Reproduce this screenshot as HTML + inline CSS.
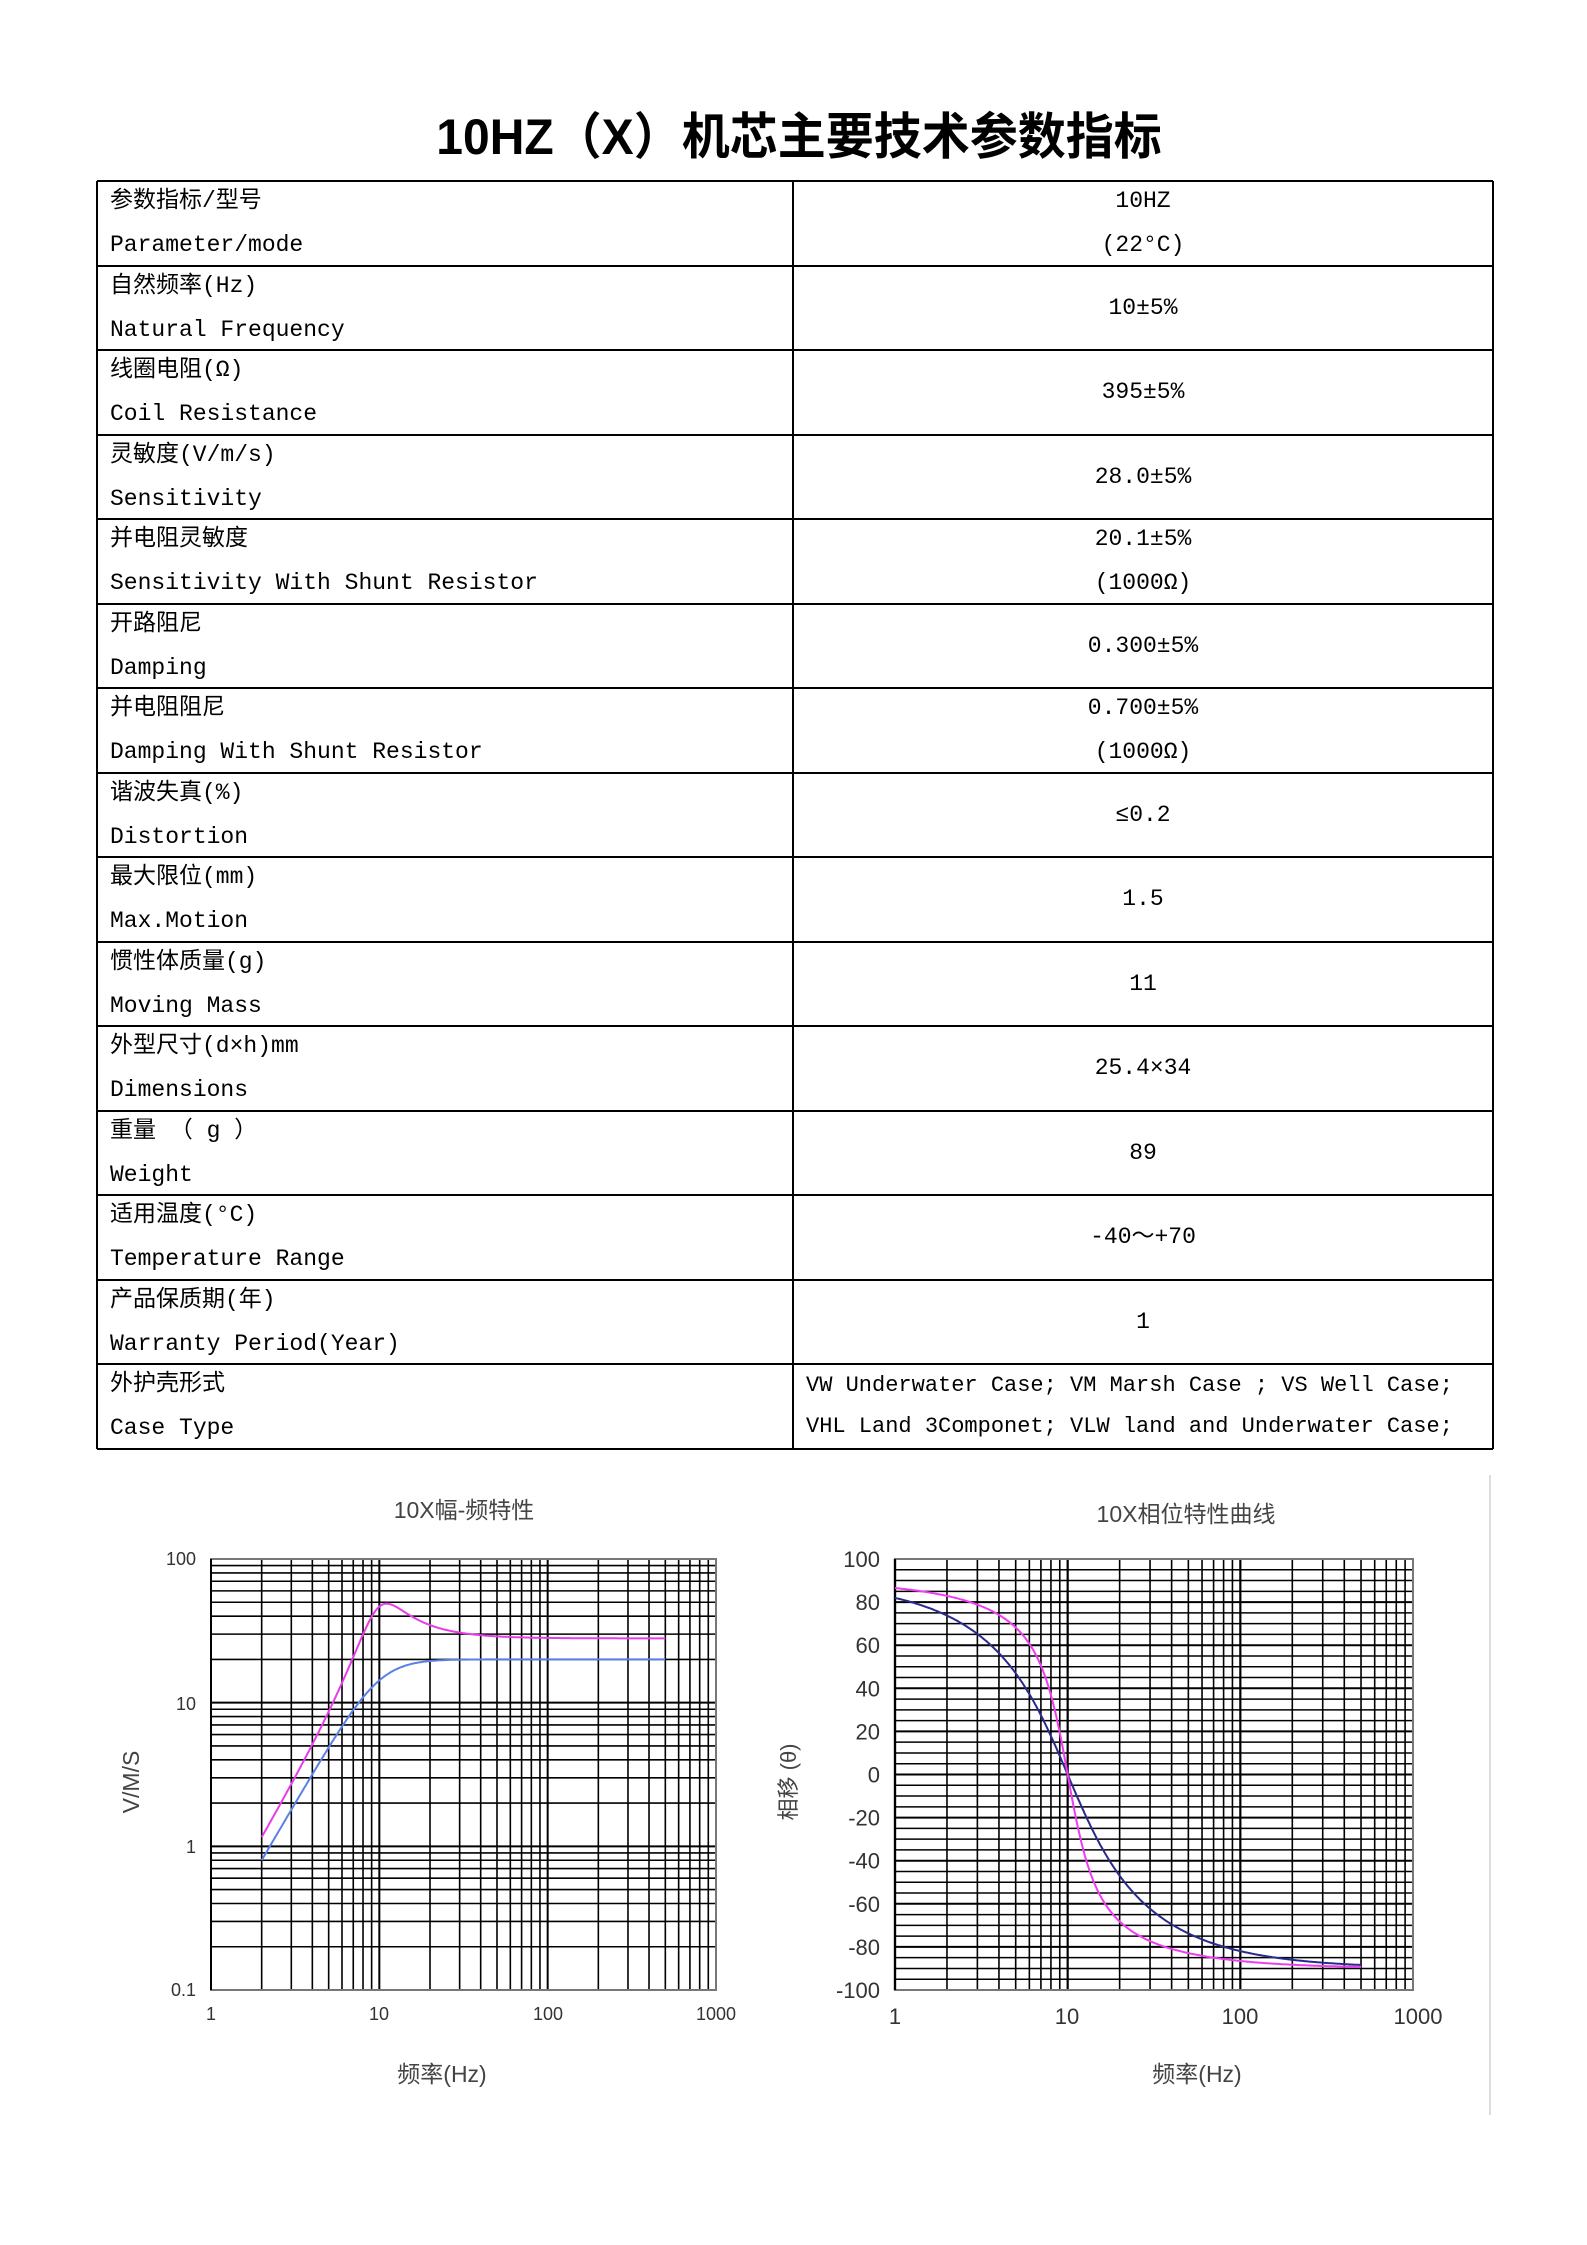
<!DOCTYPE html>
<html><head><meta charset="utf-8">
<style>
body{margin:0;background:#fff;}
#pg{position:relative;width:1587px;height:2245px;overflow:hidden;background:#fff;}
.t{position:absolute;font-family:"Liberation Mono","Noto Sans CJK SC",monospace;font-size:23px;color:#000;white-space:pre;line-height:1;}
.c{transform:translateX(-50%);}
.hl{position:absolute;left:97px;width:1396px;height:2px;background:#000;}
.vl{position:absolute;top:181px;height:1268px;width:2px;background:#000;}
</style></head><body><div id="pg">
<div class="t c" style="left:799px;top:112px;font-size:50px;font-weight:bold;font-family:'Liberation Sans','Noto Sans CJK SC',sans-serif;transform:translateX(-50%) scaleX(0.96);">10HZ（X）机芯主要技术参数指标</div>
<div id="tbl"></div>
<svg id="sv" width="1587" height="2245" style="position:absolute;left:0;top:0" font-family="Liberation Sans, Noto Sans CJK SC, sans-serif"></svg>
</div>
<script>
(function(){
const rows=[
["参数指标/型号","Parameter/mode",["10HZ","(22°C)"]],
["自然频率(Hz)","Natural Frequency",["10±5%"]],
["线圈电阻(Ω)","Coil Resistance",["395±5%"]],
["灵敏度(V/m/s)","Sensitivity",["28.0±5%"]],
["并电阻灵敏度","Sensitivity With Shunt Resistor",["20.1±5%","(1000Ω)"]],
["开路阻尼","Damping",["0.300±5%"]],
["并电阻阻尼","Damping With Shunt Resistor",["0.700±5%","(1000Ω)"]],
["谐波失真(%)","Distortion",["≤0.2"]],
["最大限位(mm)","Max.Motion",["1.5"]],
["惯性体质量(g)","Moving Mass",["11"]],
["外型尺寸(d×h)mm","Dimensions",["25.4×34"]],
["重量 （ g ）","Weight",["89"]],
["适用温度(°C)","Temperature Range",["-40～+70"]],
["产品保质期(年)","Warranty Period(Year)",["1"]],
["外护壳形式","Case Type",null]];
var h='';var T0=181,rh=84.5,CX=1143;
for(var i=0;i<=15;i++)h+='<div class="hl" style="top:'+(T0+i*rh-1)+'px"></div>';
h+='<div class="vl" style="left:96px"></div><div class="vl" style="left:792px"></div><div class="vl" style="left:1492px"></div>';
rows.forEach(function(r,i){var y=T0+i*rh;
h+='<div class="t" style="left:110px;top:'+(y+9)+'px">'+r[0]+'</div><div class="t" style="left:110px;top:'+(y+53)+'px">'+r[1]+'</div>';
if(r[2]){if(r[2].length==2){h+='<div class="t c" style="left:'+CX+'px;top:'+(y+9)+'px">'+r[2][0]+'</div><div class="t c" style="left:'+CX+'px;top:'+(y+53)+'px">'+r[2][1]+'</div>'}
else h+='<div class="t c" style="left:'+CX+'px;top:'+(y+31)+'px">'+r[2][0]+'</div>'}
else{h+='<div class="t" style="left:806px;top:'+(y+11)+'px;font-size:22px">VW Underwater Case; VM Marsh Case ; VS Well Case;</div><div class="t" style="left:806px;top:'+(y+52)+'px;font-size:22px">VHL Land 3Componet; VLW land and Underwater Case;</div>'}
});
document.getElementById('tbl').innerHTML=h;
var s='';
var L={x0:211,x1:716,y0:1559,y1:1990};
function lx(f){return L.x0+Math.log10(f)*(L.x1-L.x0)/3;}
function ly(v){return L.y1-(Math.log10(v)+1)*(L.y1-L.y0)/3;}
for(var d=0;d<3;d++)for(var k=1;k<10;k++){var x=lx(Math.pow(10,d)*k);s+='<line x1="'+x+'" y1="'+L.y0+'" x2="'+x+'" y2="'+L.y1+'" stroke="#000" stroke-width="'+(k==1?2:1.6)+'"/>';}
for(var d=-1;d<2;d++)for(var k=1;k<10;k++){var y=ly(Math.pow(10,d)*k);s+='<line x1="'+L.x0+'" y1="'+y+'" x2="'+L.x1+'" y2="'+y+'" stroke="#000" stroke-width="'+(k==1?2:1.6)+'"/>';}
s+='<rect x="'+L.x0+'" y="'+L.y0+'" width="'+(L.x1-L.x0)+'" height="'+(L.y1-L.y0)+'" fill="none" stroke="#777" stroke-width="2"/>';
s+='<line x1="'+L.x0+'" y1="'+L.y0+'" x2="'+L.x0+'" y2="'+L.y1+'" stroke="#000" stroke-width="2"/>';
function amp(f,S,hh){var r=f/10,r2=r*r;return S*r2/Math.sqrt((1-r2)*(1-r2)+(2*hh*r)*(2*hh*r));}
function ph(f,hh){var r=f/10;return 90-Math.atan2(2*hh*r,1-r*r)*180/Math.PI;}
var pm='',pb='';for(var i=0;i<=300;i++){var f=2*Math.pow(250,i/300);pm+=(i?'L':'M')+lx(f).toFixed(1)+','+ly(amp(f,28,0.3)).toFixed(1);pb+=(i?'L':'M')+lx(f).toFixed(1)+','+ly(amp(f,20,0.7)).toFixed(1);}
s+='<path d="'+pm+'" fill="none" stroke="#e83ce8" stroke-width="2"/><path d="'+pb+'" fill="none" stroke="#5a80e8" stroke-width="2"/>';
[[100,1559],[10,1704],[1,1847],[0.1,1990]].forEach(function(a){s+='<text x="196" y="'+(a[1]+6)+'" font-size="18" fill="#333" text-anchor="end">'+a[0]+'</text>';});
[[1,211],[10,379],[100,548],[1000,716]].forEach(function(a){s+='<text x="'+a[1]+'" y="2020" font-size="18" fill="#333" text-anchor="middle">'+a[0]+'</text>';});
s+='<text x="464" y="1518" font-size="23" fill="#444" text-anchor="middle">10X幅-频特性</text>';
s+='<text x="442" y="2082" font-size="23" fill="#444" text-anchor="middle">频率(Hz)</text>';
s+='<text transform="translate(139,1782) rotate(-90)" font-size="23" fill="#444" text-anchor="middle">V/M/S</text>';
var R={x0:895,x1:1413,y0:1559,y1:1990};
function rx(f){return R.x0+Math.log10(f)*(R.x1-R.x0)/3;}
function ry(v){return R.y1-(v+100)*(R.y1-R.y0)/200;}
for(var d=0;d<3;d++)for(var k=1;k<10;k++){var x=rx(Math.pow(10,d)*k);s+='<line x1="'+x+'" y1="'+R.y0+'" x2="'+x+'" y2="'+R.y1+'" stroke="#000" stroke-width="'+(k==1?2.2:1.6)+'"/>';}
for(var v=-100;v<=100;v+=5){var y=ry(v);s+='<line x1="'+R.x0+'" y1="'+y+'" x2="'+R.x1+'" y2="'+y+'" stroke="#000" stroke-width="'+(v%20==0?2:1.5)+'"/>';}
s+='<rect x="'+R.x0+'" y="'+R.y0+'" width="'+(R.x1-R.x0)+'" height="'+(R.y1-R.y0)+'" fill="none" stroke="#777" stroke-width="2"/>';
s+='<line x1="'+R.x0+'" y1="'+R.y0+'" x2="'+R.x0+'" y2="'+R.y1+'" stroke="#000" stroke-width="2.2"/>';
var qm='',qb='';for(var i=0;i<=300;i++){var f=Math.pow(500,i/300);qm+=(i?'L':'M')+rx(f).toFixed(1)+','+ry(ph(f,0.3)).toFixed(1);qb+=(i?'L':'M')+rx(f).toFixed(1)+','+ry(ph(f,0.7)).toFixed(1);}
s+='<path d="'+qb+'" fill="none" stroke="#2a2a8a" stroke-width="2"/><path d="'+qm+'" fill="none" stroke="#f03cf0" stroke-width="2"/>';
for(var v=100;v>=-100;v-=20)s+='<text x="880" y="'+(ry(v)+8)+'" font-size="22" fill="#333" text-anchor="end">'+v+'</text>';
[[1,895],[10,1067],[100,1240],[1000,1418]].forEach(function(a){s+='<text x="'+a[1]+'" y="2024" font-size="22" fill="#333" text-anchor="middle">'+a[0]+'</text>';});
s+='<text x="1186" y="1522" font-size="23" fill="#444" text-anchor="middle">10X相位特性曲线</text>';
s+='<text x="1197" y="2082" font-size="23" fill="#444" text-anchor="middle">频率(Hz)</text>';
s+='<text transform="translate(796,1782) rotate(-90)" font-size="22" fill="#444" text-anchor="middle">相移 (θ)</text>';
s+='<line x1="1490" y1="1475" x2="1490" y2="2115" stroke="#ddd" stroke-width="2"/>';
document.getElementById('sv').innerHTML=s;
})();
</script>
</body></html>
